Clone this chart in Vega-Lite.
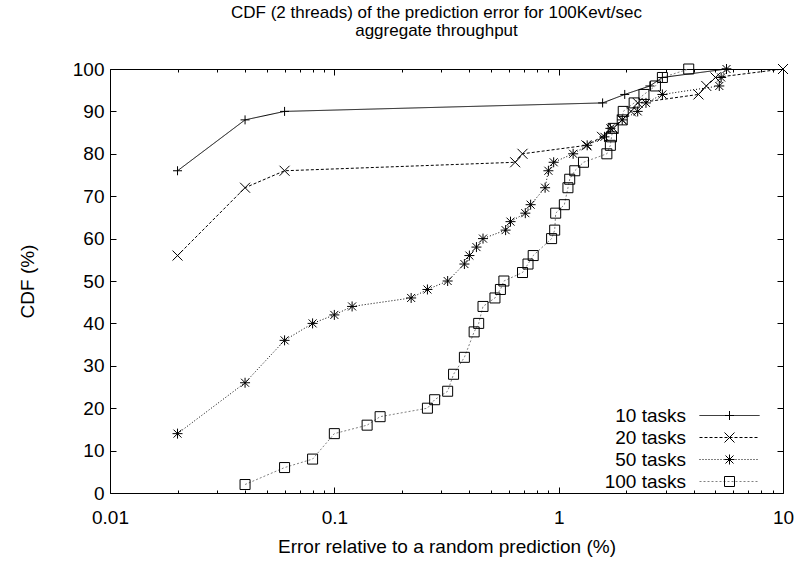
{
  "$schema": "https://vega.github.io/schema/vega-lite/v6.json",
  "width": 673,
  "height": 424,
  "autosize": "none",
  "padding": {"left": 110, "top": 69, "right": 18, "bottom": 69},
  "background": "white",
  "title": {
    "text": ["CDF (2 threads) of the prediction error for 100Kevt/sec", "aggregate throughput"],
    "font": "Liberation Sans",
    "fontSize": 17,
    "fontWeight": "normal",
    "color": "black",
    "anchor": "middle",
    "dx": -10,
    "offset": 20,
    "lineHeight": 18
  },
  "config": {
    "view": {"stroke": "black", "strokeWidth": 1},
    "axis": {
      "labelFont": "Liberation Sans",
      "titleFont": "Liberation Sans",
      "labelFontSize": 19,
      "titleFontSize": 19,
      "titleFontWeight": "normal",
      "labelColor": "black",
      "titleColor": "black",
      "tickColor": "black",
      "domain": false,
      "grid": false
    },
    "legend": {
      "title": null,
      "orient": "none",
      "legendX": 560,
      "legendY": 337,
      "labelFont": "Liberation Sans",
      "labelFontSize": 19,
      "labelColor": "black",
      "labelAlign": "right",
      "labelOffset": -53,
      "symbolOffset": 50,
      "symbolSize": 100,
      "symbolStrokeWidth": 1,
      "rowPadding": 2,
      "padding": 0
    }
  },
  "data": {
    "values": [
      {"series": "10 tasks", "err": 0.02, "cdf": 76},
      {"series": "10 tasks", "err": 0.04, "cdf": 88},
      {"series": "10 tasks", "err": 0.06, "cdf": 90},
      {"series": "10 tasks", "err": 1.57, "cdf": 92},
      {"series": "10 tasks", "err": 1.97, "cdf": 94},
      {"series": "10 tasks", "err": 2.55, "cdf": 96},
      {"series": "10 tasks", "err": 2.9, "cdf": 98},
      {"series": "10 tasks", "err": 5.6, "cdf": 100},

      {"series": "20 tasks", "err": 0.02, "cdf": 56},
      {"series": "20 tasks", "err": 0.04, "cdf": 72},
      {"series": "20 tasks", "err": 0.06, "cdf": 76},
      {"series": "20 tasks", "err": 0.64, "cdf": 78},
      {"series": "20 tasks", "err": 0.69, "cdf": 80},
      {"series": "20 tasks", "err": 1.33, "cdf": 82},
      {"series": "20 tasks", "err": 1.56, "cdf": 84},
      {"series": "20 tasks", "err": 1.75, "cdf": 86},
      {"series": "20 tasks", "err": 1.92, "cdf": 88},
      {"series": "20 tasks", "err": 2.1, "cdf": 90},
      {"series": "20 tasks", "err": 2.25, "cdf": 92},
      {"series": "20 tasks", "err": 4.2, "cdf": 94},
      {"series": "20 tasks", "err": 4.55, "cdf": 96},
      {"series": "20 tasks", "err": 5.0, "cdf": 98},
      {"series": "20 tasks", "err": 10, "cdf": 100},

      {"series": "50 tasks", "err": 0.02, "cdf": 14},
      {"series": "50 tasks", "err": 0.04, "cdf": 26},
      {"series": "50 tasks", "err": 0.06, "cdf": 36},
      {"series": "50 tasks", "err": 0.08, "cdf": 40},
      {"series": "50 tasks", "err": 0.1, "cdf": 42},
      {"series": "50 tasks", "err": 0.12, "cdf": 44},
      {"series": "50 tasks", "err": 0.22, "cdf": 46},
      {"series": "50 tasks", "err": 0.26, "cdf": 48},
      {"series": "50 tasks", "err": 0.32, "cdf": 50},
      {"series": "50 tasks", "err": 0.38, "cdf": 54},
      {"series": "50 tasks", "err": 0.4, "cdf": 56},
      {"series": "50 tasks", "err": 0.43, "cdf": 58},
      {"series": "50 tasks", "err": 0.46, "cdf": 60},
      {"series": "50 tasks", "err": 0.58, "cdf": 62},
      {"series": "50 tasks", "err": 0.61, "cdf": 64},
      {"series": "50 tasks", "err": 0.71, "cdf": 66},
      {"series": "50 tasks", "err": 0.75, "cdf": 68},
      {"series": "50 tasks", "err": 0.87, "cdf": 72},
      {"series": "50 tasks", "err": 0.9, "cdf": 76},
      {"series": "50 tasks", "err": 0.95, "cdf": 78},
      {"series": "50 tasks", "err": 1.16, "cdf": 80},
      {"series": "50 tasks", "err": 1.34, "cdf": 82},
      {"series": "50 tasks", "err": 1.6, "cdf": 84},
      {"series": "50 tasks", "err": 1.7, "cdf": 86},
      {"series": "50 tasks", "err": 1.92, "cdf": 88},
      {"series": "50 tasks", "err": 2.25, "cdf": 90},
      {"series": "50 tasks", "err": 2.45, "cdf": 92},
      {"series": "50 tasks", "err": 2.9, "cdf": 94},
      {"series": "50 tasks", "err": 5.2, "cdf": 96},
      {"series": "50 tasks", "err": 5.3, "cdf": 98},
      {"series": "50 tasks", "err": 5.6, "cdf": 100},

      {"series": "100 tasks", "err": 0.04, "cdf": 2},
      {"series": "100 tasks", "err": 0.06, "cdf": 6},
      {"series": "100 tasks", "err": 0.08, "cdf": 8},
      {"series": "100 tasks", "err": 0.1, "cdf": 14},
      {"series": "100 tasks", "err": 0.14, "cdf": 16},
      {"series": "100 tasks", "err": 0.16, "cdf": 18},
      {"series": "100 tasks", "err": 0.26, "cdf": 20},
      {"series": "100 tasks", "err": 0.28, "cdf": 22},
      {"series": "100 tasks", "err": 0.32, "cdf": 24},
      {"series": "100 tasks", "err": 0.34, "cdf": 28},
      {"series": "100 tasks", "err": 0.38, "cdf": 32},
      {"series": "100 tasks", "err": 0.42, "cdf": 38},
      {"series": "100 tasks", "err": 0.44, "cdf": 40},
      {"series": "100 tasks", "err": 0.46, "cdf": 44},
      {"series": "100 tasks", "err": 0.52, "cdf": 46},
      {"series": "100 tasks", "err": 0.55, "cdf": 48},
      {"series": "100 tasks", "err": 0.57, "cdf": 50},
      {"series": "100 tasks", "err": 0.69, "cdf": 52},
      {"series": "100 tasks", "err": 0.73, "cdf": 54},
      {"series": "100 tasks", "err": 0.77, "cdf": 56},
      {"series": "100 tasks", "err": 0.93, "cdf": 60},
      {"series": "100 tasks", "err": 0.96, "cdf": 62},
      {"series": "100 tasks", "err": 0.97, "cdf": 66},
      {"series": "100 tasks", "err": 1.06, "cdf": 68},
      {"series": "100 tasks", "err": 1.1, "cdf": 72},
      {"series": "100 tasks", "err": 1.12, "cdf": 74},
      {"series": "100 tasks", "err": 1.18, "cdf": 76},
      {"series": "100 tasks", "err": 1.29, "cdf": 78},
      {"series": "100 tasks", "err": 1.64, "cdf": 80},
      {"series": "100 tasks", "err": 1.7, "cdf": 82},
      {"series": "100 tasks", "err": 1.72, "cdf": 84},
      {"series": "100 tasks", "err": 1.75, "cdf": 86},
      {"series": "100 tasks", "err": 1.92, "cdf": 88},
      {"series": "100 tasks", "err": 1.94, "cdf": 90},
      {"series": "100 tasks", "err": 2.17, "cdf": 92},
      {"series": "100 tasks", "err": 2.4, "cdf": 94},
      {"series": "100 tasks", "err": 2.7, "cdf": 96},
      {"series": "100 tasks", "err": 2.9, "cdf": 98},
      {"series": "100 tasks", "err": 3.8, "cdf": 100}
    ]
  },
  "resolve": {"axis": {"x": "independent", "y": "independent"}},
  "layer": [
    {
      "mark": {"type": "line", "strokeWidth": 1, "clip": true},
      "encoding": {
        "x": {
          "field": "err", "type": "quantitative",
          "scale": {"type": "log", "domain": [0.01, 10], "nice": false},
          "axis": {
            "orient": "bottom",
            "title": "Error relative to a random prediction (%)",
            "titlePadding": 7,
            "values": [0.01,0.02,0.03,0.04,0.05,0.06,0.07,0.08,0.09,0.1,0.2,0.3,0.4,0.5,0.6,0.7,0.8,0.9,1,2,3,4,5,6,7,8,9,10],
            "labelExpr": "(datum.value == 0.01 || datum.value == 0.1 || datum.value == 1 || datum.value == 10) ? format(datum.value, '~g') : ''",
            "tickSize": {"condition": {"test": "datum.value == 0.01 || datum.value == 0.1 || datum.value == 1 || datum.value == 10", "value": -6}, "value": -3},
            "labelPadding": 21,
            "labelFlush": false,
            "labelOverlap": false
          }
        },
        "y": {
          "field": "cdf", "type": "quantitative",
          "scale": {"domain": [0, 100], "nice": false},
          "axis": {
            "orient": "left",
            "title": "CDF (%)",
            "values": [0,10,20,30,40,50,60,70,80,90,100],
            "tickSize": -6,
            "labelPadding": 12,
            "titlePadding": 35
          }
        },
        "detail": {"field": "series"},
        "color": {
          "field": "series", "type": "nominal",
          "scale": {"domain": ["10 tasks", "20 tasks", "50 tasks", "100 tasks"], "range": ["#000000", "#000000", "#000000", "#808080"]},
          "legend": {"symbolType": "M-6,0L6,0"}
        },
        "strokeDash": {
          "field": "series", "type": "nominal",
          "scale": {"domain": ["10 tasks", "20 tasks", "50 tasks", "100 tasks"], "range": [[1, 0], [3, 2], [1, 2], [2, 2]]}
        }
      }
    },
    {
      "mark": {"type": "point", "filled": false, "stroke": "black", "strokeWidth": 1, "size": 100, "opacity": 1},
      "encoding": {
        "x": {
          "field": "err", "type": "quantitative",
          "axis": {
            "orient": "top",
            "title": null,
            "labels": false,
            "values": [0.01,0.02,0.03,0.04,0.05,0.06,0.07,0.08,0.09,0.1,0.2,0.3,0.4,0.5,0.6,0.7,0.8,0.9,1,2,3,4,5,6,7,8,9,10],
            "tickSize": {"condition": {"test": "datum.value == 0.01 || datum.value == 0.1 || datum.value == 1 || datum.value == 10", "value": -6}, "value": -3}
          }
        },
        "y": {
          "field": "cdf", "type": "quantitative",
          "axis": {
            "orient": "right",
            "title": null,
            "labels": false,
            "values": [0,10,20,30,40,50,60,70,80,90,100],
            "tickSize": -6
          }
        },
        "shape": {
          "field": "series", "type": "nominal",
          "sort": ["10 tasks", "20 tasks", "50 tasks", "100 tasks"],
          "scale": {
            "range": [
              "M-0.9,0L0.9,0M0,-0.9L0,0.9",
              "M-1,-1L1,1M-1,1L1,-1",
              "M-1,0L1,0M0,-1L0,1M-0.8,-0.8L0.8,0.8M-0.8,0.8L0.8,-0.8",
              "M-1,-1L1,-1L1,1L-1,1Z"
            ]
          },
          "legend": {"symbolFillColor": "white", "symbolStrokeColor": "black", "labelOpacity": 0}
        }
      }
    }
  ]
}
